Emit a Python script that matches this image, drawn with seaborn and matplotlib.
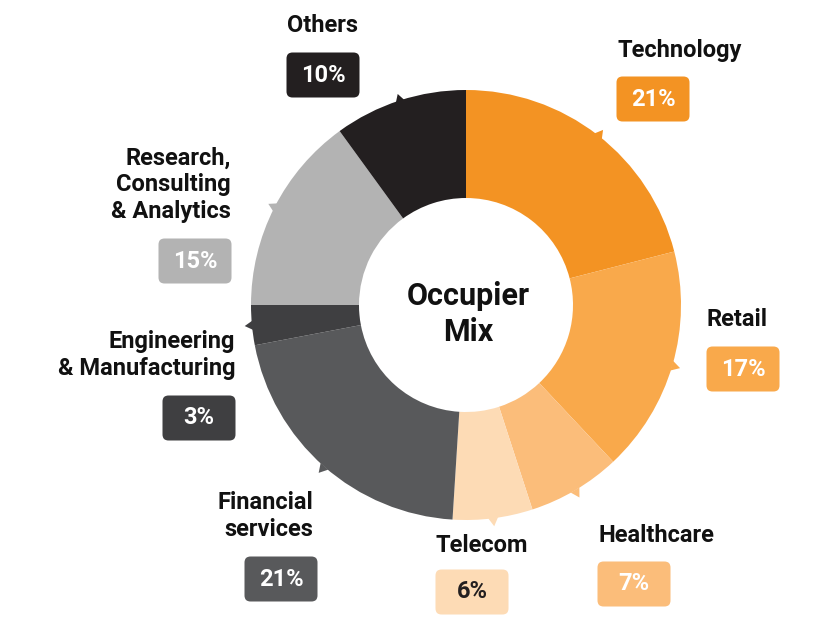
import matplotlib
matplotlib.use("Agg")
import numpy as np
import matplotlib.pyplot as plt
import seaborn as sns
from matplotlib.patches import FancyBboxPatch

# data
sectors = ["Technology", "Retail", "Healthcare", "Telecom", "Financial\nservices",
           "Engineering\n& Manufacturing", "Research,\nConsulting\n& Analytics", "Others"]
shares = [21, 17, 7, 6, 21, 3, 15, 10]
colors = ["#F39323", "#F9A94B", "#FBBD7A", "#FDDBB5", "#58595B", "#3F3F41", "#B3B3B3", "#231F20"]

sns.set_theme(style="white")
plt.rcParams["font.family"] = ["Roboto", "DejaVu Sans"]

fig = plt.figure(figsize=(8.4, 6.27), dpi=100)
ax = fig.add_axes([0, 0, 1, 1])

cx, cy, R = 466, 322, 215
wedges, _ = ax.pie(shares, colors=colors, startangle=90, counterclock=False,
                   center=(cx, cy), radius=R, frame=True,
                   wedgeprops=dict(width=108, linewidth=0))
ax.set_xlim(0, 840)
ax.set_ylim(0, 627)
ax.set_aspect("equal")
ax.axis("off")

# little pointer notches at each slice's outer edge
for w, c in zip(wedges, colors):
    mid = np.deg2rad((w.theta1 + w.theta2) / 2)
    px, py = cx + (R + 2) * np.cos(mid), cy + (R + 2) * np.sin(mid)
    ax.scatter(px, py, marker=(3, 0, np.rad2deg(mid) - 90), s=70, color=c,
               linewidths=0, zorder=3)

ax.text(cx + 2, 313, "Occupier\nMix", ha="center", va="center",
        fontsize=22, fontweight="bold", color="#111111", linespacing=1.25)

# label layout: (label x, label y, ha, box center x, box center y)
layout = [
    (617, 577, "left", 653, 528),
    (707, 307, "left", 743, 258),
    (598, 92, "left", 634, 43),
    (436, 82, "left", 472, 35),
    (313, 111, "right", 281, 48),
    (235, 272, "right", 199, 209),
    (231, 442, "right", 195, 366),
    (323, 602, "center", 323, 552),
]

bw, bh = 73, 45
for name, val, c, (lx, ly, ha, bx, by) in zip(sectors, shares, colors, layout):
    ax.text(lx, ly, name, ha=ha, va="center", fontsize=17, fontweight="bold",
            color="#111111", linespacing=1.2)
    box = FancyBboxPatch((bx - bw / 2 + 6, by - bh / 2 + 6), bw - 12, bh - 12,
                         boxstyle="round,pad=6", facecolor=c, edgecolor="none")
    ax.add_patch(box)
    tc = "#231F20" if c == "#FDDBB5" else "white"
    ax.text(bx, by, f"{val}%", ha="center", va="center", fontsize=17,
            fontweight="bold", color=tc)

fig.savefig("out.png", dpi=100)
